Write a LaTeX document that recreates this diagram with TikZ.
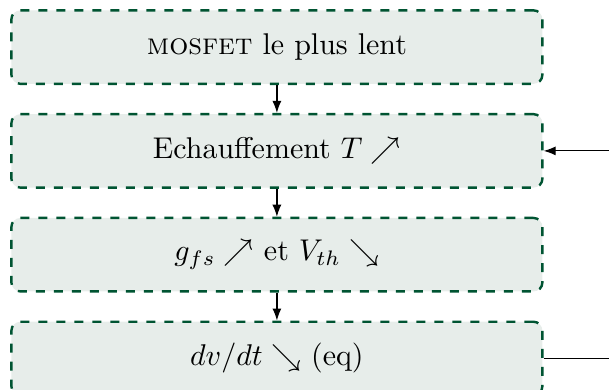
\documentclass[tikz,border=0pt]{standalone}
\usepackage{amsmath}
\usepackage{amssymb}
\usepackage{xcolor}
\definecolor{ecvert}{RGB}{0,84,50}
\definecolor{ecfond}{RGB}{231,237,234}
\usepackage{tikz}
\usetikzlibrary{arrows.meta, positioning}

\begin{document}
\begin{tikzpicture}[
    etape/.style={draw=ecvert, fill=ecfond, thick, dashed, rounded corners=3pt,
                  minimum width=177pt, minimum height=24.5pt},
    fleche/.style={-{Latex[length=4pt,width=3pt]}, thin}]
  % cadre visible
  \clip (-92.3pt,15.7pt) rectangle (110.7pt,-114.3pt);
  % etapes
  \node[etape] (lent) at (0,0) {\textsc{mosfet} le plus lent};
  \node[etape, below=9.3pt of lent] (echauf) {Echauffement $T \nearrow$};
  \node[etape, below=9.3pt of echauf] (gfs) {$g_{fs} \nearrow$ et $V_{th} \searrow$};
  \node[etape, below=9.3pt of gfs] (dvdt) {$dv/dt \searrow$ (eq)};
  % liaisons
  \draw[fleche] (lent) -- (echauf);
  \draw[fleche] (echauf) -- (gfs);
  \draw[fleche] (gfs) -- (dvdt);
  % boucle de retour
  \draw[fleche] (dvdt.east) -- ++(1cm,0) |- (echauf.east);
\end{tikzpicture}
\end{document}
